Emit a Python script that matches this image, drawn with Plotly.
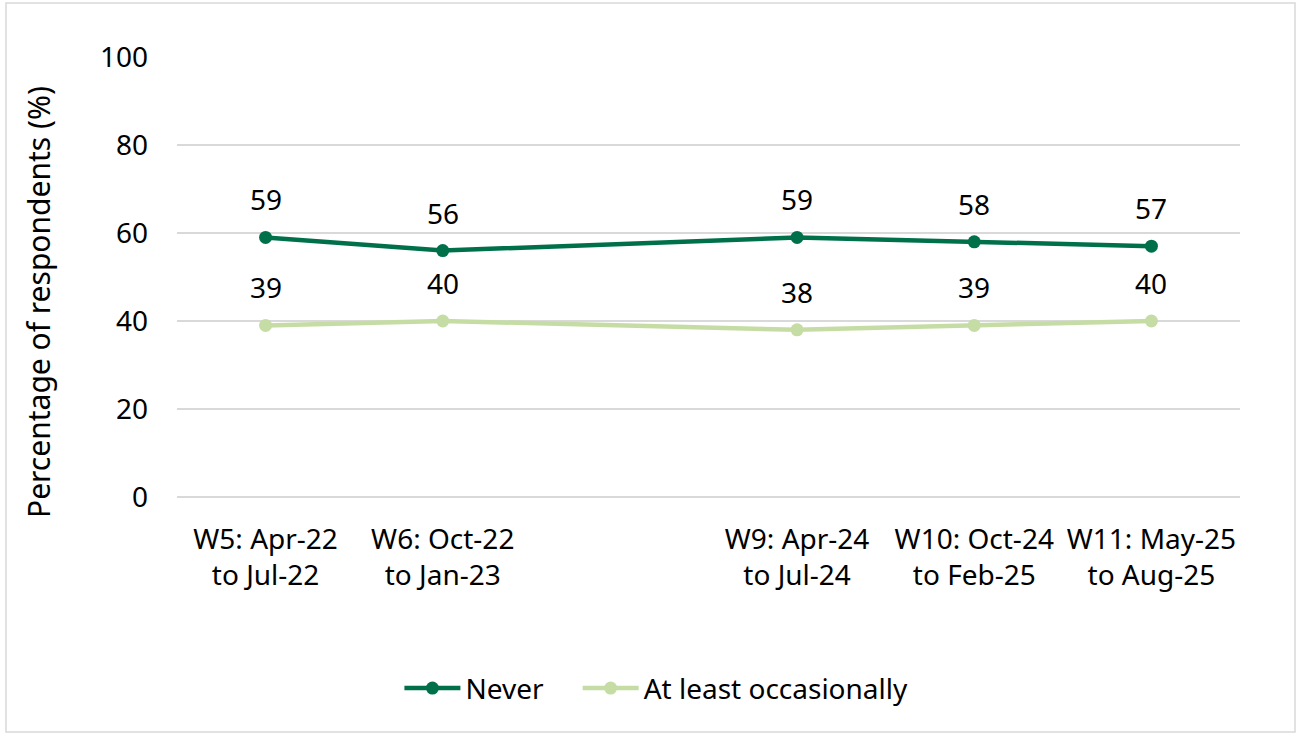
import plotly.graph_objects as go

# Data
x_pos = [0, 1, 3, 4, 5]
tick_labels = ["W5: Apr-22<br>to Jul-22", "W6: Oct-22<br>to Jan-23",
               "W9: Apr-24<br>to Jul-24", "W10: Oct-24<br>to Feb-25",
               "W11: May-25<br>to Aug-25"]
never = [59, 56, 59, 58, 57]
occasionally = [39, 40, 38, 39, 40]
y_title = "Percentage of respondents (%)"

FONT = "Noto Sans"
FS = 28
dark = "#00704A"
light = "#C5DDA5"

fig = go.Figure()
fig.add_trace(go.Scatter(x=x_pos, y=never, name="Never" + "\u00a0" * 4, mode="lines+markers",
                         line=dict(color=dark, width=4.5), marker=dict(size=13, color=dark)))
fig.add_trace(go.Scatter(x=x_pos, y=occasionally, name="At least occasionally", mode="lines+markers",
                         line=dict(color=light, width=4.5), marker=dict(size=13, color=light)))

for series in (never, occasionally):
    for xv, yv in zip(x_pos, series):
        fig.add_annotation(x=xv, y=yv, text=str(yv), showarrow=False, yshift=38,
                           font=dict(family=FONT, size=FS, color="#000000"))

pw, ph = 1300 - 177 - 60, 497 - 57
# Y-axis title as annotation (positioned like reference)
fig.add_annotation(xref="paper", yref="paper", x=(38 - 177) / pw, y=(497 - 302) / ph,
                   text=y_title, textangle=-90, showarrow=False,
                   xanchor="center", yanchor="middle",
                   font=dict(family=FONT, size=30, color="#000000"))

# Outer border
fig.add_shape(type="rect", xref="paper", yref="paper",
              x0=(6 - 177) / pw, x1=(1295 - 177) / pw,
              y0=(497 - 732) / ph, y1=(497 - 3) / ph,
              line=dict(color="#d9d9d9", width=1.5), fillcolor="rgba(0,0,0,0)", layer="below")

fig.update_layout(
    width=1300, height=735,
    margin=dict(l=177, r=60, t=57, b=238),
    paper_bgcolor="white", plot_bgcolor="white",
    font=dict(family=FONT, size=FS, color="#000000"),
    showlegend=True,
    legend=dict(orientation="h", x=0.451, xanchor="center", y=-0.435, yanchor="middle",
                font=dict(family=FONT, size=FS), itemwidth=56, tracegroupgap=0),
    xaxis=dict(range=[-0.5, 5.5], tickmode="array", tickvals=x_pos, ticktext=tick_labels,
               showgrid=False, zeroline=False, showline=False, ticks="", ticklabelstandoff=23,
               tickfont=dict(family=FONT, size=FS), fixedrange=True),
    yaxis=dict(range=[0, 100], tickvals=[0, 20, 40, 60, 80, 100],
               showgrid=True, gridcolor="#d9d9d9", gridwidth=1.5,
               zeroline=True, zerolinecolor="#d9d9d9", zerolinewidth=1.5,
               showline=False, ticks="", ticklabelstandoff=28,
               tickfont=dict(family=FONT, size=FS)),
)

fig.write_html("out.html")
